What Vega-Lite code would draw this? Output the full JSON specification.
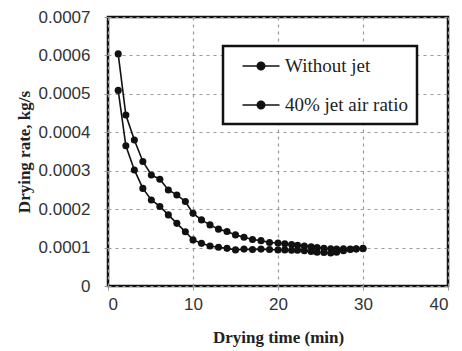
{
  "$schema": "https://vega.github.io/schema/vega-lite/v6.json",
  "width": 340,
  "height": 269,
  "autosize": {"type": "none"},
  "padding": {"left": 108, "top": 17, "right": 14, "bottom": 65},
  "background": "white",
  "config": {
    "view": {"stroke": "#111", "strokeWidth": 2.5},
    "axis": {
      "grid": true,
      "gridColor": "#9a9a9a",
      "gridDash": [3, 4],
      "gridWidth": 1.2,
      "domain": false,
      "tickColor": "#999",
      "tickSize": 4,
      "labelFont": "Liberation Sans",
      "labelFontSize": 17,
      "labelColor": "#333",
      "titleFont": "Liberation Serif",
      "titleFontSize": 17,
      "titleFontWeight": "bold",
      "titleColor": "#222"
    }
  },
  "data": {
    "values": [
      {"t": 1.2, "r": 0.000604, "s": "40% jet air ratio"},
      {"t": 2.1, "r": 0.000445, "s": "40% jet air ratio"},
      {"t": 3.1, "r": 0.000380, "s": "40% jet air ratio"},
      {"t": 4.1, "r": 0.000324, "s": "40% jet air ratio"},
      {"t": 5.1, "r": 0.000289, "s": "40% jet air ratio"},
      {"t": 6.1, "r": 0.000278, "s": "40% jet air ratio"},
      {"t": 7.1, "r": 0.000250, "s": "40% jet air ratio"},
      {"t": 8.1, "r": 0.000237, "s": "40% jet air ratio"},
      {"t": 9.1, "r": 0.000220, "s": "40% jet air ratio"},
      {"t": 10.0, "r": 0.000189, "s": "40% jet air ratio"},
      {"t": 11.0, "r": 0.000172, "s": "40% jet air ratio"},
      {"t": 12.0, "r": 0.000159, "s": "40% jet air ratio"},
      {"t": 13.0, "r": 0.000148, "s": "40% jet air ratio"},
      {"t": 14.0, "r": 0.000142, "s": "40% jet air ratio"},
      {"t": 15.0, "r": 0.000133, "s": "40% jet air ratio"},
      {"t": 16.0, "r": 0.000127, "s": "40% jet air ratio"},
      {"t": 17.0, "r": 0.000121, "s": "40% jet air ratio"},
      {"t": 18.0, "r": 0.000118, "s": "40% jet air ratio"},
      {"t": 19.0, "r": 0.000113, "s": "40% jet air ratio"},
      {"t": 20.0, "r": 0.000112, "s": "40% jet air ratio"},
      {"t": 20.8, "r": 0.000110, "s": "40% jet air ratio"},
      {"t": 21.6, "r": 0.000108, "s": "40% jet air ratio"},
      {"t": 22.3, "r": 0.000106, "s": "40% jet air ratio"},
      {"t": 23.1, "r": 0.000104, "s": "40% jet air ratio"},
      {"t": 23.9, "r": 0.000102, "s": "40% jet air ratio"},
      {"t": 24.6, "r": 0.000100, "s": "40% jet air ratio"},
      {"t": 25.4, "r": 0.000098, "s": "40% jet air ratio"},
      {"t": 26.2, "r": 0.000097, "s": "40% jet air ratio"},
      {"t": 26.9, "r": 0.000096, "s": "40% jet air ratio"},
      {"t": 27.7, "r": 0.000097, "s": "40% jet air ratio"},
      {"t": 28.5, "r": 0.000096, "s": "40% jet air ratio"},
      {"t": 29.2, "r": 0.000097, "s": "40% jet air ratio"},
      {"t": 30.0, "r": 0.000098, "s": "40% jet air ratio"},
      {"t": 1.2, "r": 0.000509, "s": "Without jet"},
      {"t": 2.1, "r": 0.000365, "s": "Without jet"},
      {"t": 3.1, "r": 0.000302, "s": "Without jet"},
      {"t": 4.1, "r": 0.000254, "s": "Without jet"},
      {"t": 5.1, "r": 0.000224, "s": "Without jet"},
      {"t": 6.1, "r": 0.000207, "s": "Without jet"},
      {"t": 7.1, "r": 0.000185, "s": "Without jet"},
      {"t": 8.1, "r": 0.000163, "s": "Without jet"},
      {"t": 9.1, "r": 0.000141, "s": "Without jet"},
      {"t": 10.0, "r": 0.000120, "s": "Without jet"},
      {"t": 11.0, "r": 0.000111, "s": "Without jet"},
      {"t": 12.0, "r": 0.000104, "s": "Without jet"},
      {"t": 13.0, "r": 0.000101, "s": "Without jet"},
      {"t": 14.0, "r": 0.000098, "s": "Without jet"},
      {"t": 15.0, "r": 0.000094, "s": "Without jet"},
      {"t": 16.0, "r": 0.000096, "s": "Without jet"},
      {"t": 17.0, "r": 0.000095, "s": "Without jet"},
      {"t": 18.0, "r": 0.000096, "s": "Without jet"},
      {"t": 19.0, "r": 0.000095, "s": "Without jet"},
      {"t": 20.0, "r": 0.000094, "s": "Without jet"},
      {"t": 20.8, "r": 0.000094, "s": "Without jet"},
      {"t": 21.6, "r": 0.000093, "s": "Without jet"},
      {"t": 22.3, "r": 0.000093, "s": "Without jet"},
      {"t": 23.1, "r": 0.000092, "s": "Without jet"},
      {"t": 23.9, "r": 0.000090, "s": "Without jet"},
      {"t": 24.6, "r": 0.000088, "s": "Without jet"},
      {"t": 25.4, "r": 0.000087, "s": "Without jet"},
      {"t": 26.2, "r": 0.000086, "s": "Without jet"},
      {"t": 26.9, "r": 0.000088, "s": "Without jet"},
      {"t": 27.7, "r": 0.000092, "s": "Without jet"},
      {"t": 28.5, "r": 0.000095, "s": "Without jet"},
      {"t": 29.2, "r": 0.000096, "s": "Without jet"},
      {"t": 30.0, "r": 0.000097, "s": "Without jet"}
    ]
  },
  "encoding": {
    "x": {
      "field": "t", "type": "quantitative",
      "scale": {"domain": [0, 40], "nice": false},
      "axis": {"values": [0, 10, 20, 30, 40], "title": "Drying time (min)", "labelPadding": 6, "titlePadding": 17}
    },
    "y": {
      "field": "r", "type": "quantitative",
      "scale": {"domain": [0, 0.0007], "nice": false},
      "axis": {"values": [0, 0.0001, 0.0002, 0.0003, 0.0004, 0.0005, 0.0006, 0.0007], "format": ".4~f", "title": "Drying rate, kg/s", "labelPadding": 14, "titlePadding": 5}
    },
    "detail": {"field": "s"}
  },
  "layer": [
    {
      "mark": {"type": "line", "color": "#111", "strokeWidth": 1.6},
      "encoding": {
        "color": {
          "field": "s", "type": "nominal",
          "scale": {"domain": ["Without jet", "40% jet air ratio"], "range": ["#111", "#111"]},
          "legend": {
            "title": null,
            "orient": "none",
            "legendX": 115,
            "legendY": 29,
            "padding": 9,
            "strokeColor": "#111",
            "fillColor": "white",
            "symbolType": "M-1.85,0H1.85M-0.37,0A0.37,0.37 0 1,1 0.37,0A0.37,0.37 0 1,1 -0.37,0",
            "symbolSize": 400,
            "symbolOffset": 18,
            "symbolFillColor": "#111",
            "symbolStrokeColor": "#111",
            "symbolStrokeWidth": 1.6,
            "labelFont": "Liberation Serif",
            "labelFontSize": 19,
            "labelColor": "#222",
            "labelOffset": 13,
            "rowPadding": 18,
            "labelLimit": 300,
            "encode": {"legend": {"update": {"strokeWidth": {"value": 2.5}}}}
          }
        }
      }
    },
    {
      "mark": {"type": "point", "filled": true, "color": "#111", "size": 50, "opacity": 1},
      "encoding": {}
    }
  ]
}
